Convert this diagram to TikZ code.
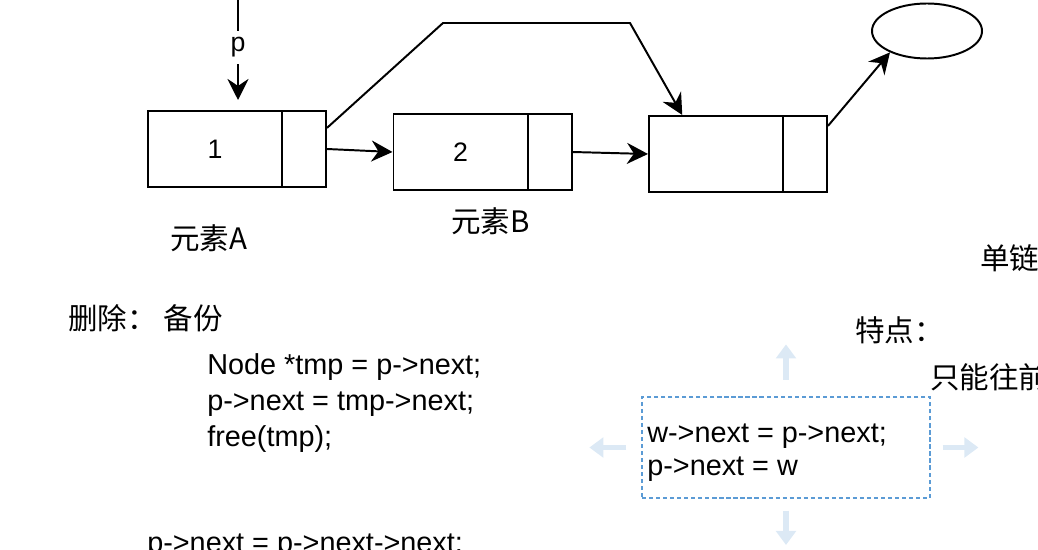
\documentclass[tikz,border=0pt]{standalone}
\usepackage{fontspec}
\setmainfont{Liberation Sans}
\newfontfamily\cjk{Noto Sans CJK SC}
\usetikzlibrary{positioning,arrows.meta,shapes.geometric}
\definecolor{selblue}{HTML}{5B9BD5}
\definecolor{uiblue}{HTML}{DCE9F5}
\tikzset{
	datacell/.style={draw, line width=1.4pt, minimum width=3.35cm, minimum height=1.9cm, inner sep=0pt, font=\fontsize{19}{23}\selectfont},
	nextcell/.style={draw, line width=1.4pt, minimum width=1.1cm, minimum height=1.9cm, inner sep=0pt},
	arr/.style={line width=1.4pt, -{Stealth[length=15pt,width=15pt,inset=5pt]}},
	cntext/.style={anchor=west, inner sep=0pt, font=\cjk\fontsize{21}{25}\selectfont},
	codeline/.style={anchor=base west, inner sep=0pt, font=\fontsize{20.5}{24}\selectfont},
	selbox/.style={draw=selblue, line width=0.8pt, dash pattern=on 3pt off 2pt, minimum width=7.2cm, minimum height=2.525cm},
	uiarrow/.style={draw=uiblue, line width=4pt, -{Triangle[length=10pt,width=14pt]}}
}
\begin{document}
\begin{tikzpicture}[x=0.025cm, y=-0.025cm]
	\useasboundingbox (0,0) rectangle (1038,550);
	\clip (0,0) rectangle (1038,550);
	\node[datacell] (a1) at (215,149) {1};
	\node[nextcell, right=-1.4pt of a1] (a2) {};
	\node[datacell] (b1) at (460.5,152) {2};
	\node[nextcell, right=-1.4pt of b1] (b2) {};
	\node[datacell] (c1) at (716,154) {};
	\node[nextcell, right=-1.4pt of c1] (c2) {};
	\node[ellipse, draw, line width=1.4pt, minimum width=2.75cm, minimum height=1.375cm] (ell) at (927,31) {};
	\coordinate (ptop) at (238,-5);
	\coordinate (ptip) at (238,100);
	\coordinate (bendl) at (443,23);
	\coordinate (bendr) at (630,23);
	\draw[arr] (ptop) -- node[fill=white, inner sep=0pt, minimum height=24pt, font=\fontsize{19}{22}\selectfont] (plabel) {p} (ptip);
	\draw[arr] (a2.east) -- (b1.west);
	\draw[arr] (b2.east) -- (c1.west);
	\draw[arr] ([yshift=15pt]a2.east) -- (bendl) -- (bendr) -- ([xshift=-24pt]c1.north);
	\draw[arr] ([yshift=20pt]c2.east) -- (ell.210);
	\node[cntext] (namea) at (170,238) {元素A};
	\node[cntext] (nameb) at (451,221) {元素B};
	\node[cntext] (single) at (980,258) {单链};
	\node[cntext] (del) at (68,318) {删除：\hspace{0.23em}备份};
	\node[cntext] (feat) at (855,330) {特点：};
	\node[cntext] (only) at (930,377) {只能往前};
	\node[codeline] (code1) at (207,374) {Node *tmp = p->next;};
	\node[codeline] (code2) at (207,410) {p->next = tmp->next;};
	\node[codeline] (code3) at (207,446) {free(tmp);};
	\node[codeline] (code4) at (147,552) {p->next = p->next->next;};
	\node[selbox] (sel) at (786,447.5) {};
	\node[codeline] (ins1) at (647,442) {w->next = p->next;};
	\node[codeline] (ins2) at (647,475) {p->next = w};
	\draw[uiarrow] ([yshift=12pt]sel.north) -- ([yshift=37pt]sel.north);
	\draw[uiarrow] ([yshift=-8.5pt]sel.south) -- ([yshift=-33pt]sel.south);
	\draw[uiarrow] ([xshift=-10.7pt]sel.west) -- ([xshift=-37pt]sel.west);
	\draw[uiarrow] ([xshift=8.5pt]sel.east) -- ([xshift=34pt]sel.east);
\end{tikzpicture}
\end{document}
